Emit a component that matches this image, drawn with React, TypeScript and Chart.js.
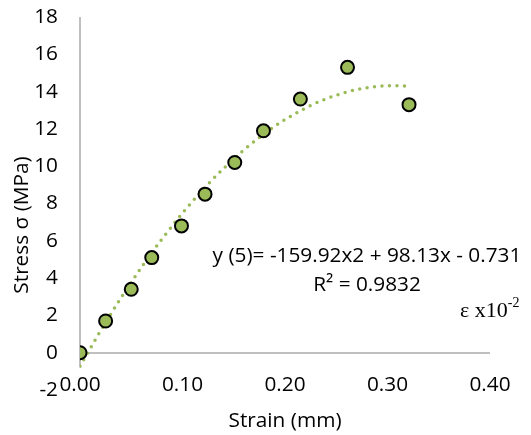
import React, { useEffect, useRef } from "react";
import { Chart, registerables } from "chart.js";

Chart.register(...registerables);

const strain = [0, 0.025, 0.05, 0.07, 0.099, 0.122, 0.151, 0.179, 0.215, 0.261, 0.321];
const stress = [0, 1.7, 3.4, 5.1, 6.8, 8.5, 10.2, 11.9, 13.6, 15.3, 13.3];

const trendX = [0, 0.02, 0.04, 0.06, 0.08, 0.1, 0.12, 0.14, 0.16, 0.18, 0.2, 0.22, 0.24, 0.26, 0.28, 0.3, 0.318];
const trendY = [-0.731, 1.168, 2.938, 4.581, 6.096, 7.483, 8.742, 9.873, 10.876, 11.751, 12.498, 13.118, 13.609, 13.972, 14.207, 14.315, 14.299];

const yTicks = [-2, 0, 2, 4, 6, 8, 10, 12, 14, 16, 18];
const xTicks = [0, 0.1, 0.2, 0.3, 0.4];

const equationText = "y (5)= -159.92x2 + 98.13x - 0.731";
const r2Text = "R² = 0.9832";
const xTitle = "Strain (mm)";
const yTitle = "Stress σ (MPa)";

const FONT = "'Open Sans'";
const FS = 20.8;
const GREEN = "#9BBB59";
const AXIS = "#BFBFBF";

const axisLinePlugin = {
  id: "axisLine",
  beforeDatasetsDraw(chart: any) {
    const ctx = chart.ctx;
    const xs = chart.scales.x;
    const ys = chart.scales.y;
    const px = xs.getPixelForValue(0);
    ctx.save();
    ctx.strokeStyle = AXIS;
    ctx.lineWidth = 2;
    ctx.beginPath();
    ctx.moveTo(px, ys.getPixelForValue(18));
    ctx.lineTo(px, ys.getPixelForValue(-0.8));
    ctx.stroke();
    ctx.restore();
  },
};

const textPlugin = {
  id: "texts",
  afterDraw(chart: any) {
    const ctx = chart.ctx;
    ctx.save();
    ctx.fillStyle = "#000";
    ctx.textBaseline = "middle";
    ctx.textAlign = "center";
    ctx.font = `${FS}px ${FONT}`;
    ctx.fillText(equationText, 367, 256);
    ctx.fillText(r2Text, 367, 285);
    ctx.fillText(xTitle, 285, 421);
    // y title
    ctx.save();
    ctx.translate(22, 225);
    ctx.rotate(-Math.PI / 2);
    ctx.fillText(yTitle, 0, 0);
    ctx.restore();
    // epsilon label
    ctx.textAlign = "left";
    ctx.textBaseline = "alphabetic";
    ctx.font = `22px "Liberation Serif"`;
    const base = "ε x10";
    ctx.fillText(base, 460, 317);
    const w = ctx.measureText(base).width;
    ctx.font = `14px "Liberation Serif"`;
    ctx.fillText("-2", 460 + w, 307);
    ctx.restore();
  },
};

export default function App() {
  const ref = useRef<HTMLCanvasElement>(null);
  useEffect(() => {
    document.body.style.margin = "0";
    const c = new Chart(ref.current!, {
      type: "scatter",
      data: {
        datasets: [
          {
            label: "data",
            data: strain.map((x, i) => ({ x, y: stress[i] })),
            backgroundColor: GREEN,
            borderColor: "#000",
            borderWidth: 2,
            pointRadius: 6.5,
            order: 1,
          },
          {
            label: "trend",
            type: "line",
            data: trendX.map((x, i) => ({ x, y: trendY[i] })),
            borderColor: GREEN,
            borderWidth: 3.5,
            borderDash: [0, 7.5],
            borderCapStyle: "round",
            pointRadius: 0,
            fill: false,
            tension: 0.4,
            cubicInterpolationMode: "monotone",
            order: 2,
          } as any,
        ],
      },
      options: {
        animation: false,
        responsive: false,
        maintainAspectRatio: false,
        layout: { padding: { top: 17, right: 41, left: 0, bottom: 0 } },
        plugins: { legend: { display: false }, tooltip: { enabled: false } },
        scales: {
          x: {
            type: "linear",
            min: 0,
            max: 0.4,
            afterBuildTicks: (s: any) => {
              s.ticks = xTicks.map((v) => ({ value: v }));
            },
            afterFit: (s: any) => {
              s.height = 45;
              s.paddingLeft = 0;
              s.paddingRight = 0;
            },
            border: { display: false },
            grid: { display: false, drawTicks: false },
            ticks: {
              mirror: true,
              padding: -7.5,
              color: "#000",
              font: { family: FONT, size: FS },
              callback: (v: any) => Number(v).toFixed(2),
            },
          },
          y: {
            type: "linear",
            min: -2,
            max: 18,
            afterBuildTicks: (s: any) => {
              s.ticks = yTicks.map((v) => ({ value: v }));
            },
            afterFit: (s: any) => {
              s.width = 80;
              s.paddingTop = 0;
              s.paddingBottom = 0;
            },
            border: { display: false },
            grid: {
              drawTicks: false,
              color: (ctx: any) => (ctx.tick && ctx.tick.value === 0 ? AXIS : "rgba(0,0,0,0)"),
              lineWidth: 2,
            },
            ticks: {
              padding: 22,
              color: "#000",
              font: { family: FONT, size: FS },
            },
          },
        },
      },
      plugins: [axisLinePlugin, textPlugin],
    });
    return () => c.destroy();
  }, []);
  return <canvas ref={ref} width={531} height={435} style={{ display: "block" }} />;
}
